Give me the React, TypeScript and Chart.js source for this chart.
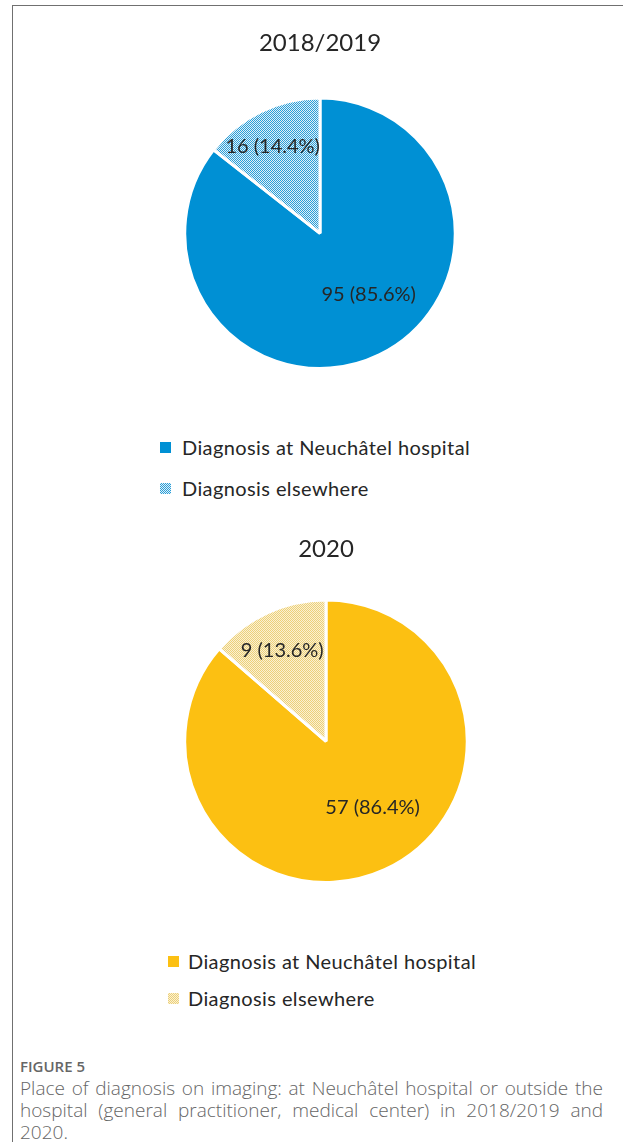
import React, { useEffect, useRef } from "react";
import { Chart, registerables } from "chart.js";

Chart.register(...registerables);

// ---- Data ----
const categories = ["Diagnosis at Neuchâtel hospital", "Diagnosis elsewhere"];
const titles = ["2018/2019", "2020"];
const values2018 = [95, 16];
const values2020 = [57, 9];
const captionLabel = "FIGURE 5";
const captionText =
  "Place of diagnosis on imaging: at Neuchâtel hospital or outside the hospital (general practitioner, medical center) in 2018/2019 and 2020.";

// ---- Styles ----
const FONT = "Lato, 'Open Sans', sans-serif";
const TEXT = "#262626";
const blue = "#0090d4";
const blueLight = ["#2a9fd8", "#e2f0f8"];
const yellow = "#fcc012";
const yellowLight = ["#ecd07a", "#fbf1d2"];

function makePattern(base: string, light: string) {
  const c = document.createElement("canvas");
  c.width = 2;
  c.height = 2;
  const x = c.getContext("2d")!;
  x.fillStyle = light;
  x.fillRect(0, 0, 2, 2);
  x.fillStyle = base;
  x.fillRect(0, 0, 1, 1);
  x.fillRect(1, 1, 1, 1);
  return x.createPattern(c, "repeat")!;
}

const labelPlugin = {
  id: "sliceLabels",
  afterDatasetsDraw(chart: any, _args: any, opts: any) {
    const meta = chart.getDatasetMeta(0);
    const data: number[] = chart.data.datasets[0].data;
    const total = data.reduce((a, b) => a + b, 0);
    const ctx = chart.ctx;
    ctx.save();
    ctx.font = `20px ${FONT}`;
    ctx.fillStyle = TEXT;
    ctx.textAlign = "center";
    ctx.textBaseline = "middle";
    meta.data.forEach((arc: any, i: number) => {
      const p = arc.getProps(["x", "y", "outerRadius"], true);
      const off = opts.offsets[i];
      const v = data[i];
      const txt = `${v} (${((v / total) * 100).toFixed(1)}%)`;
      ctx.fillText(txt, p.x + off[0] * p.outerRadius, p.y + off[1] * p.outerRadius);
    });
    ctx.restore();
  },
};

type PieProps = {
  title: string;
  values: number[];
  colors: () => any[];
  left: number;
  top: number;
  width: number;
  height: number;
  padTop: number;
  padBottom: number;
  offsets: number[][];
};

function Pie(props: PieProps) {
  const ref = useRef<HTMLCanvasElement>(null);
  useEffect(() => {
    const chart = new Chart(ref.current!, {
      type: "pie",
      data: {
        labels: categories,
        datasets: [
          {
            data: props.values,
            backgroundColor: props.colors(),
            borderColor: "#ffffff",
            borderWidth: 3,
          },
        ],
      },
      options: {
        responsive: false,
        animation: false,
        layout: { padding: 0 },
        plugins: {
          legend: { display: false },
          tooltip: { enabled: false },
          title: {
            display: true,
            text: props.title,
            color: TEXT,
            font: { family: FONT, size: 24, weight: "normal", lineHeight: 1.2 },
            padding: { top: props.padTop, bottom: props.padBottom },
          },
          sliceLabels: { offsets: props.offsets },
        } as any,
      },
      plugins: [labelPlugin],
    });
    return () => chart.destroy();
  }, []);
  return (
    <canvas
      ref={ref}
      width={props.width}
      height={props.height}
      style={{ position: "absolute", left: props.left, top: props.top, width: props.width, height: props.height }}
    />
  );
}

function Legend(props: { left: number; textLeft: number; ys: number[]; swatches: string[] }) {
  return (
    <>
      {categories.map((c, i) => (
        <React.Fragment key={c}>
          <div
            style={{
              position: "absolute",
              left: props.left,
              top: props.ys[i] - 5.5,
              width: 11,
              height: 11,
              background: props.swatches[i],
            }}
          />
          <div
            style={{
              position: "absolute",
              left: props.textLeft,
              top: props.ys[i] - 12,
              height: 24,
              lineHeight: "24px",
              fontFamily: FONT,
              fontSize: 20,
              letterSpacing: "0.4px",
              color: TEXT,
              whiteSpace: "nowrap",
            }}
          >
            {c}
          </div>
        </React.Fragment>
      ))}
    </>
  );
}

export default function App() {
  return (
    <div style={{ position: "absolute", left: 0, top: 0, width: 623, height: 1142, background: "#fff", overflow: "hidden" }}>
      <div
        style={{
          position: "absolute",
          left: 12,
          top: 5,
          width: 623,
          height: 1142,
          borderTop: "1px solid #707070",
          borderLeft: "1px solid #707070",
        }}
      />
      <Pie
        title={titles[0]}
        values={values2018}
        colors={() => [blue, makePattern(blueLight[0], blueLight[1])]}
        left={120}
        top={0}
        width={400}
        height={370}
        padTop={29}
        padBottom={38.7}
        offsets={[
          [0.36, 0.45],
          [-0.35, -0.64],
        ]}
      />
      <Legend
        left={160}
        textLeft={182}
        ys={[447, 488]}
        swatches={[blue, `repeating-conic-gradient(${blueLight[0]} 0 25%, ${blueLight[1]} 0 50%) 0 0/2px 2px`]}
      />
      <Pie
        title={titles[1]}
        values={values2020}
        colors={() => [yellow, makePattern(yellowLight[0], yellowLight[1])]}
        left={126}
        top={500}
        width={400}
        height={384}
        padTop={34.6}
        padBottom={35.1}
        offsets={[
          [0.33, 0.47],
          [-0.31, -0.645],
        ]}
      />
      <Legend
        left={168}
        textLeft={188}
        ys={[961, 998]}
        swatches={[yellow, `repeating-conic-gradient(${yellowLight[0]} 0 25%, ${yellowLight[1]} 0 50%) 0 0/2px 2px`]}
      />
      <div
        style={{
          position: "absolute",
          left: 20,
          top: 1056,
          fontFamily: "'Open Sans', sans-serif",
          fontSize: 15,
          fontWeight: 600,
          color: "#666",
          lineHeight: "20px",
        }}
      >
        {captionLabel}
      </div>
      <div
        style={{
          position: "absolute",
          left: 20,
          top: 1077,
          width: 583,
          fontFamily: "'Open Sans', sans-serif",
          fontSize: 19,
          fontWeight: 300,
          color: "#666",
          lineHeight: "22px",
          textAlign: "justify",
        }}
      >
        {captionText}
      </div>
    </div>
  );
}
